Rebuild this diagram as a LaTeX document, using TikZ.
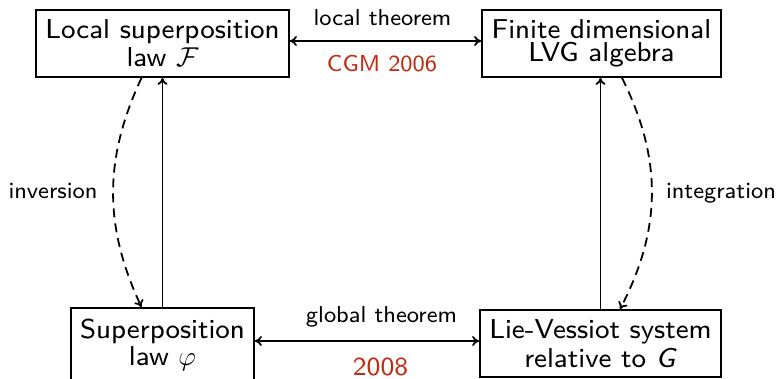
\RequirePackage{fix-cm}
\documentclass[tikz,border=0pt]{standalone}
\usepackage{fontspec}
\setsansfont{lmsans8-regular.otf}[ItalicFont=lmsans8-oblique.otf]
\usetikzlibrary{arrows.meta}
\definecolor{refred}{RGB}{190,45,20}
\begin{document}
\begin{tikzpicture}[x=1pt,y=-1pt,
  font=\sffamily,
  box/.style={draw,line width=1.8pt,inner sep=0pt,align=center},
  lbl/.style={font=\sffamily\fontsize{23}{26}\selectfont,inner sep=0pt},
  redlbl/.style={font=\sffamily\fontsize{23}{26}\selectfont,text=refred,inner sep=0pt},
  tip/.tip={To[length=7pt,width=10pt]},
  conn/.style={line width=1.8pt,-tip},
  dconn/.style={conn,dash pattern=on 9pt off 6pt}]
\useasboundingbox (0,0) rectangle (777,378);
\node[box,minimum width=253pt,minimum height=67pt,
  font=\sffamily\fontsize{27.3}{28}\selectfont] (TL) at (162.5,43.5)
  {Local superposition\\law $\mathcal{F}$};
\node[box,minimum width=239pt,minimum height=67pt,
  font=\sffamily\fontsize{27.3}{23.5}\selectfont] (TR) at (601.5,43.5)
  {Finite dimensional\\LVG algebra};
\node[box,minimum width=183pt,minimum height=73pt,
  font=\sffamily\fontsize{27.3}{27}\selectfont] (BL) at (162.5,344.5)
  {Superposition\\law $\varphi$};
\node[box,minimum width=241pt,minimum height=67pt,
  font=\sffamily\fontsize{27.3}{28.5}\selectfont] (BR) at (600.5,343.5)
  {Lie-Vessiot system\\relative to \textit{G}};
\draw[conn,tip-tip] ([yshift=2.5pt]TL.east) -- ([yshift=2.5pt]TL.east -| TR.west);
\draw[conn,tip-tip] ([yshift=3.5pt]BL.east) -- ([yshift=3.5pt]BL.east -| BR.west);
\draw[conn] (BL.north) -- (TL.south);
\draw[conn] (BR.north) -- (BR.north |- TR.south);
\draw[dconn] ([xshift=-21pt]TL.south) to[bend right=25] ([xshift=-21pt]BL.north);
\draw[dconn] ([xshift=20.5pt]TR.south) to[bend left=27] ([xshift=19.5pt]BR.north);
\node[lbl] (lt) at (382.5,18) {local theorem};
\node[redlbl] (cgm) at (382,63.5) {CGM 2006};
\node[lbl] (gt) at (381.5,317) {global theorem};
\node[redlbl,font=\sffamily\fontsize{26}{28}\selectfont] (y08) at (380.5,366.5) {2008};
\node[lbl] (inv) at (53,191) {inversion};
\node[lbl] (int) at (721,193) {integration};
\end{tikzpicture}
\end{document}
